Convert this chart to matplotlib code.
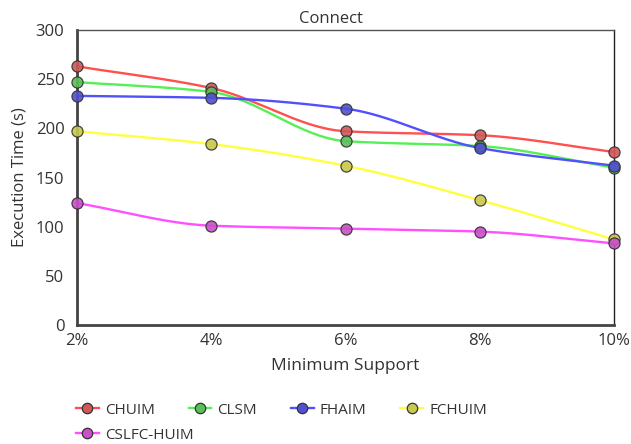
import numpy as np
import matplotlib
matplotlib.use("Agg")
import matplotlib.pyplot as plt
from matplotlib.lines import Line2D

plt.rcParams['font.family'] = ['Open Sans', 'DejaVu Sans']

supports = ["2%", "4%", "6%", "8%", "10%"]
chuim = [263, 241, 197, 193, 176]
clsm = [247, 237, 187, 182, 160]
fhaim = [233, 231, 220, 180, 162]
fchuim = [197, 184, 162, 127, 87]
cslfc_huim = [124, 101, 98, 95, 83]

names = ["CHUIM", "CLSM", "FHAIM", "FCHUIM", "CSLFC-HUIM"]
series = [chuim, clsm, fhaim, fchuim, cslfc_huim]
colors = ["#ff5050", "#55f055", "#5050ff", "#ffff40", "#ff50ff"]
faces = ["#d05858", "#58c058", "#5050d0", "#c8c850", "#c850c8"]


def monotone_curve(x, y, n=40):
    """Fritsch-Carlson monotone cubic interpolation."""
    x = np.asarray(x, float)
    y = np.asarray(y, float)
    h = np.diff(x)
    d = np.diff(y) / h
    m = np.zeros_like(y)
    m[0], m[-1] = d[0], d[-1]
    for i in range(1, len(y) - 1):
        if d[i - 1] * d[i] <= 0:
            m[i] = 0.0
        else:
            w1 = 2 * h[i] + h[i - 1]
            w2 = h[i] + 2 * h[i - 1]
            m[i] = (w1 + w2) / (w1 / d[i - 1] + w2 / d[i])
    xs, ys = [], []
    for i in range(len(x) - 1):
        t = np.linspace(0, 1, n, endpoint=(i == len(x) - 2))
        h00 = 2 * t**3 - 3 * t**2 + 1
        h10 = t**3 - 2 * t**2 + t
        h01 = -2 * t**3 + 3 * t**2
        h11 = t**3 - t**2
        xs.append(x[i] + t * h[i])
        ys.append(h00 * y[i] + h10 * h[i] * m[i] + h01 * y[i + 1] + h11 * h[i] * m[i + 1])
    return np.concatenate(xs), np.concatenate(ys)


fig = plt.figure(figsize=(6.31, 4.44), dpi=100)
ax = fig.add_axes([77 / 631, 1 - 325 / 444, (614 - 77) / 631, (325 - 30) / 444])

xpos = np.arange(len(supports))
handles = []
for name, vals, c, fc in zip(names, series, colors, faces):
    sx, sy = monotone_curve(xpos, vals)
    ax.plot(sx, sy, color=c, lw=1.7, zorder=2, clip_on=False)
    ax.plot(xpos, vals, ls="none", marker="o", ms=8, mfc=fc, mec="#333333",
            mew=0.9, alpha=0.9, zorder=3, clip_on=False)
    handles.append(Line2D([], [], color=c, lw=1.7, marker="o", ms=7.5, mfc=fc,
                          mec="#333333", mew=0.9, label=name))

ax.set_xlim(0, len(supports) - 1)
ax.set_ylim(0, 300)
ax.set_xticks(xpos)
ax.set_xticklabels(supports)
ax.set_yticks(np.arange(0, 301, 50))
ax.tick_params(length=0, labelsize=12, colors="#333333", pad=9)
ax.tick_params(axis="x", pad=6)

for side in ["left", "bottom"]:
    ax.spines[side].set_linewidth(2)
    ax.spines[side].set_color("#444444")
ax.spines["top"].set_linewidth(1)
ax.spines["top"].set_color("#555555")
ax.spines["right"].set_linewidth(1)
ax.spines["right"].set_color("#222222")

ax.set_xlabel("Minimum Support", fontsize=12.5, color="#333333", labelpad=6)
ax.set_ylabel("Execution Time (s)", fontsize=12, color="#333333", labelpad=6)
fig.text(331 / 631, 1 - 19 / 444, "Connect", ha="center", va="center",
         fontsize=12, color="#333333")

leg_kw = dict(frameon=False, fontsize=11, handlelength=1.5, handletextpad=0.4,
              columnspacing=2.2, borderaxespad=0, borderpad=0,
              labelcolor="#333333")
leg1 = fig.legend(handles=handles[:4], ncol=4, loc="center left",
                  bbox_to_anchor=(76 / 631, 1 - 410 / 444), **leg_kw)
leg2 = fig.legend(handles=handles[4:], ncol=1, loc="center left",
                  bbox_to_anchor=(76 / 631, 1 - 435 / 444), **leg_kw)

fig.savefig("out.png", dpi=100)
